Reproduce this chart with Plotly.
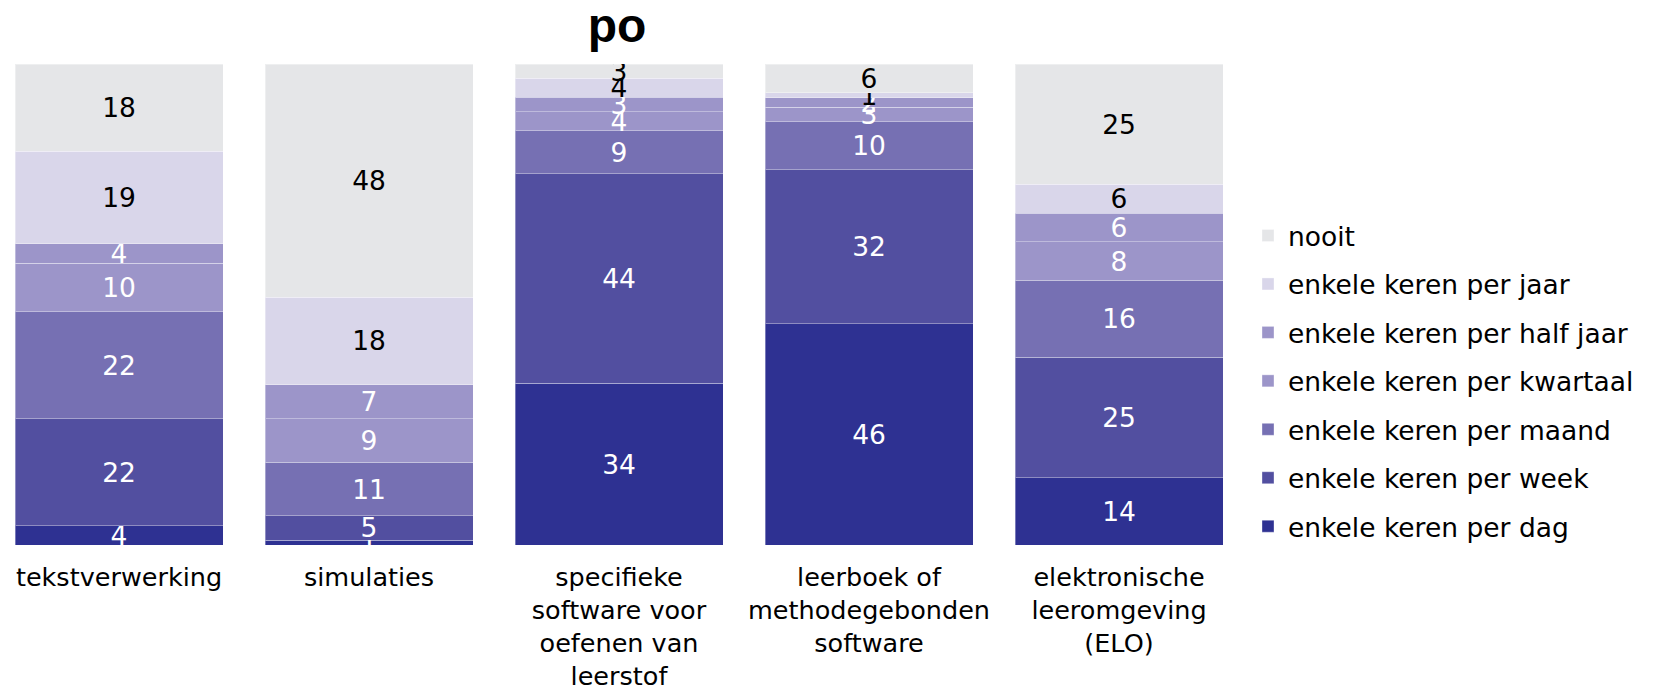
import plotly.graph_objects as go

# categories and answer options (bottom of the stack first)
categories = [
    'tekstverwerking',
    'simulaties',
    'specifieke<br>software voor<br>oefenen van<br>leerstof',
    'leerboek of<br>methodegebonden<br>software',
    'elektronische<br>leeromgeving<br>(ELO)',
]
series_names = [
    'enkele keren per dag',
    'enkele keren per week',
    'enkele keren per maand',
    'enkele keren per kwartaal',
    'enkele keren per half jaar',
    'enkele keren per jaar',
    'nooit',
]

per_dag = [4, 1, 34, 46, 14]
per_week = [22, 5, 44, 32, 25]
per_maand = [22, 11, 9, 10, 16]
per_kwartaal = [10, 9, 4, 3, 8]
per_half_jaar = [4, 7, 3, 2, 6]
per_jaar = [19, 18, 4, 1, 6]
nooit = [18, 48, 3, 6, 25]

values = [per_dag, per_week, per_maand, per_kwartaal, per_half_jaar, per_jaar, nooit]
colors = ['#2e3192', '#524fa0', '#7670b3', '#9c95c9', '#9c95c9', '#d9d6ea', '#e5e6e8']
text_colors = ['white', 'white', 'white', 'white', 'white', 'black', 'black']

FONT = 'DejaVu Sans'
SIZE = 26.5

fig = go.Figure()
for i, (name, vals, col, tcol) in enumerate(zip(series_names, values, colors, text_colors)):
    fig.add_trace(go.Bar(
        x=categories, y=vals, name=name, legendgroup=name,
        legendrank=len(series_names) - i,  # nooit on top of the legend
        marker=dict(color=col, line=dict(color='rgba(255,255,255,0.35)', width=1)),
        text=[str(v) for v in vals],
        textposition='inside', insidetextanchor='middle', textangle=0,
        textfont=dict(color=tcol, size=SIZE, family=FONT),
        hoverinfo='skip',
    ))

fig.update_layout(
    width=1653, height=691,
    barmode='stack', barnorm='percent', bargap=0.168,
    uniformtext=dict(minsize=SIZE, mode='show'),
    plot_bgcolor='white', paper_bgcolor='white',
    margin=dict(l=0, r=403, t=64, b=146, autoexpand=False),
    font=dict(family=FONT, size=SIZE, color='black'),
    title=dict(text='<b>po</b>', xref='paper', x=0.4936, xanchor='center',
               yref='container', y=0.964, yanchor='middle',
               font=dict(family='Liberation Sans', size=48, color='black')),
    legend=dict(traceorder='grouped', x=0.9984, xanchor='left', y=-0.012, yanchor='bottom',
                font=dict(family=FONT, size=SIZE), itemwidth=30, tracegroupgap=11,
                maxheight=600),
    showlegend=True,
)
fig.update_xaxes(range=[-0.476, 4.524], showgrid=False, showline=False, ticks='',
                 automargin=False, ticklabelstandoff=14,
                 tickfont=dict(family=FONT, size=25.5))
fig.update_yaxes(range=[0, 100], visible=False, showgrid=False, automargin=False)

# drop the default page margin so the figure fills the window exactly
fig.write_html('out.html', config={'displayModeBar': False},
               post_script="document.body.style.margin='0';")
